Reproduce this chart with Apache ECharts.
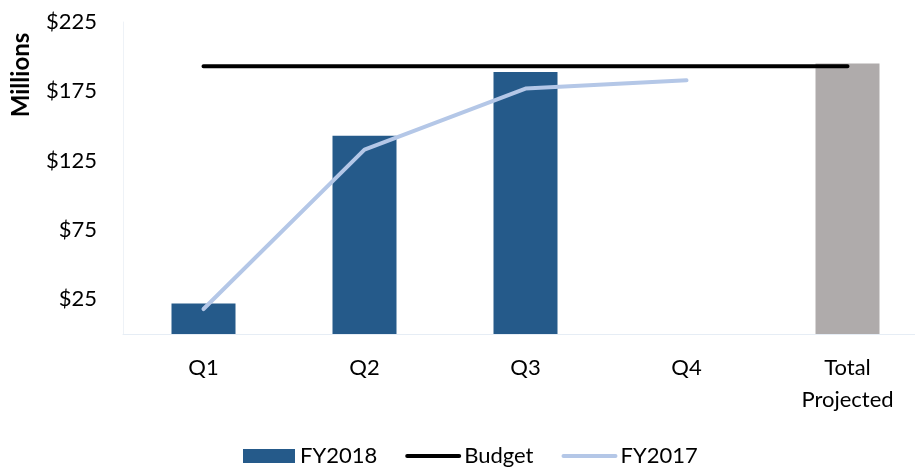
<!DOCTYPE html>
<html>
<head>
<meta charset="utf-8">
<script src="https://cdn.jsdelivr.net/npm/echarts@6/dist/echarts.min.js"></script>
<style>
  html, body { margin: 0; padding: 0; background: #fff; }
  #main { width: 915px; height: 468px; }
</style>
</head>
<body>
<div id="main"></div>
<script>
// data ($ millions)
var categories = ['Q1', 'Q2', 'Q3', 'Q4', 'Total\nProjected'];
var fy2018 = [22, 143, 189, null, 195];
var budget = [193, 193, 193, 193, 193];
var fy2017 = [18, 133, 177, 183, null];
var yTicks = [25, 75, 125, 175, 225];

var myChart = echarts.init(document.getElementById('main'));
var font = 'Lato, "Noto Sans", sans-serif';

// last bar (Total Projected) is grey
var barData = fy2018.map(function (v, i) {
    if (i === fy2018.length - 1) {
        return { value: v, itemStyle: { color: '#AFABAB' } };
    }
    return v;
});

var option = {
    animation: false,
    textStyle: { fontFamily: font },
    grid: { left: 123, top: 22, width: 805, height: 312, outerBoundsMode: 'none', containLabel: false },
    graphic: [{
        type: 'text',
        x: 21,
        y: 75,
        rotation: Math.PI / 2,
        style: {
            text: 'Millions',
            fontSize: 24,
            fontWeight: 'bold',
            fontFamily: font,
            fill: '#000',
            align: 'center',
            verticalAlign: 'middle'
        }
    }],
    legend: {
        left: 238,
        top: 440,
        itemWidth: 52,
        itemHeight: 14,
        itemGap: 28,
        textStyle: { fontSize: 22, color: '#000', fontFamily: font },
        data: [
            { name: 'FY2018', icon: 'rect' },
            { name: 'Budget', itemStyle: { opacity: 0 }, lineStyle: { width: 4, color: '#000' } },
            { name: 'FY2017', itemStyle: { opacity: 0 }, lineStyle: { width: 4, color: '#B4C7E7' } }
        ]
    },
    xAxis: {
        type: 'category',
        data: categories,
        axisLine: { lineStyle: { color: '#E6EDF5', width: 1 } },
        axisTick: { show: false },
        axisLabel: { fontSize: 22, color: '#000', margin: 18, lineHeight: 32, fontFamily: font }
    },
    yAxis: {
        type: 'value',
        min: 0,
        max: 225,
        interval: 25,
        axisLine: { show: true, lineStyle: { color: '#EEF2F7' } },
        axisTick: { show: false },
        splitLine: { show: false },
        axisLabel: {
            fontSize: 22, color: '#000', margin: 26, fontFamily: font,
            formatter: function (v) { return yTicks.indexOf(v) >= 0 ? '$' + v : ''; }
        }
    },
    series: [
        {
            name: 'FY2018',
            type: 'bar',
            data: barData,
            barWidth: 64,
            itemStyle: { color: '#255A8A' }
        },
        {
            name: 'Budget',
            type: 'line',
            data: budget,
            symbol: 'none',
            lineStyle: { color: '#000', width: 4, cap: 'round' },
            itemStyle: { color: '#000' }
        },
        {
            name: 'FY2017',
            type: 'line',
            data: fy2017,
            symbol: 'none',
            lineStyle: { color: '#B4C7E7', width: 4, cap: 'round', join: 'round' },
            itemStyle: { color: '#B4C7E7' }
        }
    ]
};

myChart.setOption(option);
</script>
</body>
</html>
